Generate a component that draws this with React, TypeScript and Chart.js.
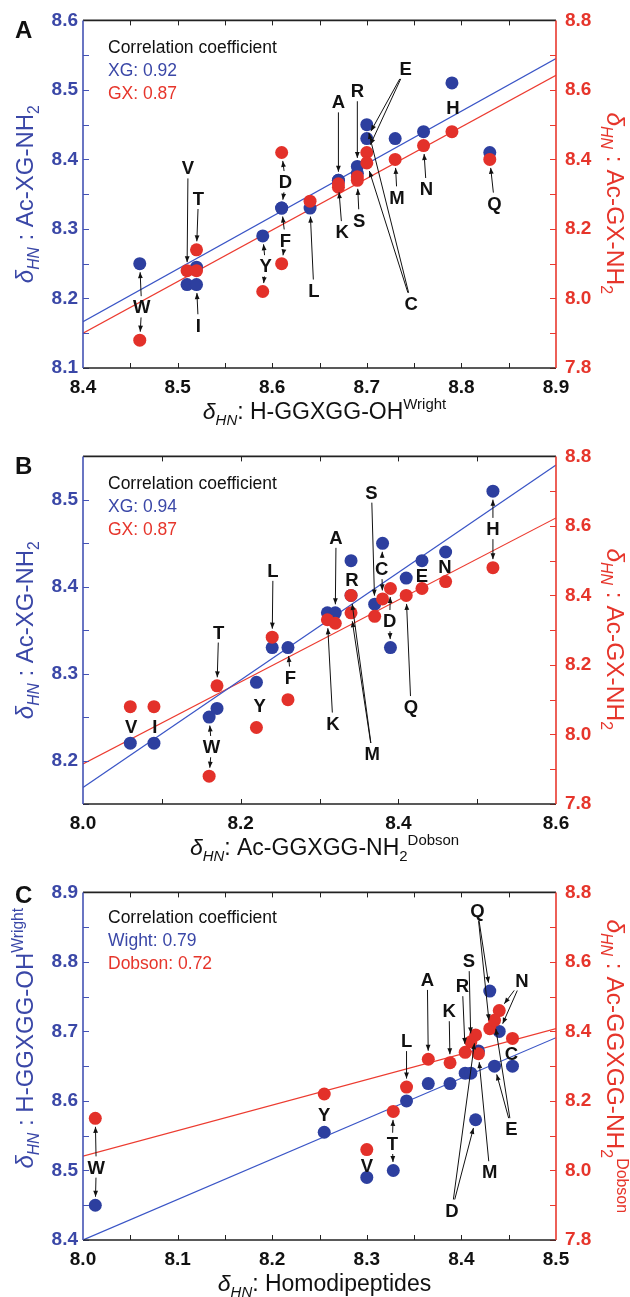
import React, { useEffect, useRef } from 'react';
import { Chart, registerables } from 'chart.js';

Chart.register(...registerables);

const FONT = '"Liberation Sans", Arial, Helvetica, sans-serif';
const BLUE_DOT = '#2d3f9f';
const RED_DOT = '#e3312a';
const BLUE_TXT = '#3a47a7';
const RED_TXT = '#e6352b';
const BLUE_LINE = '#3a55c6';
const RED_LINE = '#ec3b30';
const BLUE_AXIS = '#4453b4';
const RED_AXIS = '#e9392f';

// ---------- Panel A : Wright (x) vs Ac-XG-NH2 (blue) / Ac-GX-NH2 (red)
const residuesA = ['W', 'V', 'I', 'T', 'Y', 'D', 'F', 'L', 'A', 'K', 'R', 'S', 'E', 'C', 'M', 'N', 'H', 'Q'];
const wrightA = [8.46, 8.51, 8.52, 8.52, 8.59, 8.61, 8.61, 8.64, 8.67, 8.67, 8.69, 8.69, 8.70, 8.70, 8.73, 8.76, 8.79, 8.83];
const xgA = [8.25, 8.22, 8.22, 8.245, 8.29, 8.33, 8.33, 8.33, 8.37, 8.37, 8.39, 8.38, 8.43, 8.45, 8.43, 8.44, 8.51, 8.41];
const gxA = [7.88, 8.08, 8.08, 8.14, 8.02, 8.42, 8.10, 8.28, 8.32, 8.33, 8.35, 8.34, 8.42, 8.39, 8.40, 8.44, 8.48, 8.40];
const fitXA = [8.4, 8.9];
const fitXgA = [8.1665, 8.545];
const fitGxA = [7.90, 8.642];
const xTicksA = [8.4, 8.5, 8.6, 8.7, 8.8, 8.9];
const leftTicksA = [8.1, 8.2, 8.3, 8.4, 8.5, 8.6];
const legendA = ['Correlation coefficient', 'XG: 0.92', 'GX: 0.87'];

// ---------- Panel B : Dobson (x) vs Ac-XG-NH2 (blue) / Ac-GX-NH2 (red)
const residuesB = ['V', 'I', 'W', 'T', 'Y', 'L', 'F', 'K', 'A', 'R', 'M', 'S', 'C', 'D', 'Q', 'E', 'N', 'H'];
const dobsonB = [8.06, 8.09, 8.16, 8.17, 8.22, 8.24, 8.26, 8.31, 8.32, 8.34, 8.34, 8.37, 8.38, 8.39, 8.41, 8.43, 8.46, 8.52];
const xgB = [8.22, 8.22, 8.25, 8.26, 8.29, 8.33, 8.33, 8.37, 8.37, 8.39, 8.43, 8.38, 8.45, 8.33, 8.41, 8.43, 8.44, 8.51];
const gxB = [8.08, 8.08, 7.88, 8.14, 8.02, 8.28, 8.10, 8.33, 8.32, 8.35, 8.40, 8.34, 8.39, 8.42, 8.40, 8.42, 8.44, 8.48];
const fitXB = [8.0, 8.6];
const fitXgB = [8.169, 8.540];
const fitGxB = [7.915, 8.623];
const xTicksB = [8.0, 8.2, 8.4, 8.6];
const leftTicksB = [8.2, 8.3, 8.4, 8.5];
const legendB = ['Correlation coefficient', 'XG: 0.94', 'GX: 0.87'];

// ---------- Panel C : Homodipeptides (x) vs Wright (blue) / Dobson (red)
const residuesC = ['W', 'Y', 'V', 'T', 'L', 'A', 'K', 'R', 'S', 'M', 'D', 'Q', 'N', 'E', 'C'];
const homoC = [8.013, 8.255, 8.30, 8.328, 8.342, 8.365, 8.388, 8.404, 8.41, 8.418, 8.415, 8.43, 8.44, 8.435, 8.454];
const wrightC = [8.45, 8.555, 8.49, 8.50, 8.60, 8.625, 8.625, 8.64, 8.64, 8.672, 8.573, 8.758, 8.70, 8.65, 8.65];
const dobsonC = [8.15, 8.22, 8.06, 8.17, 8.24, 8.32, 8.31, 8.34, 8.37, 8.336, 8.39, 8.408, 8.46, 8.432, 8.38];
const fitXC = [8.0, 8.5];
const fitWrightC = [8.40, 8.691];
const fitDobsonC = [8.041, 8.408];
const xTicksC = [8.0, 8.1, 8.2, 8.3, 8.4, 8.5];
const leftTicksC = [8.4, 8.5, 8.6, 8.7, 8.8, 8.9];
const legendC = ['Correlation coefficient', 'Wight: 0.79', 'Dobson: 0.72'];

const rightTicksAll = [7.8, 8.0, 8.2, 8.4, 8.6, 8.8];

// ---------- text helpers
type Seg = { t: string; it?: boolean; sub?: boolean; sup?: boolean };
const dHN: Seg[] = [{ t: 'δ', it: true }, { t: 'HN', it: true, sub: true }];
const xTitleA: Seg[] = [...dHN, { t: ': H-GGXGG-OH' }, { t: 'Wright', sup: true }];
const xTitleB: Seg[] = [...dHN, { t: ': Ac-GGXGG-NH' }, { t: '2', sub: true }, { t: 'Dobson', sup: true }];
const xTitleC: Seg[] = [...dHN, { t: ': Homodipeptides' }];
const yTitleXG: Seg[] = [...dHN, { t: ' : Ac-XG-NH' }, { t: '2', sub: true }];
const yTitleGX: Seg[] = [...dHN, { t: ' : Ac-GX-NH' }, { t: '2', sub: true }];
const yTitleWright: Seg[] = [...dHN, { t: ' : H-GGXGG-OH' }, { t: 'Wright', sup: true }];
const yTitleDobson: Seg[] = [...dHN, { t: ' : Ac-GGXGG-NH' }, { t: '2', sub: true }, { t: 'Dobson', sup: true }];

// annotation layout: [label, x value, left-axis value, targets ('b'/'r' + residue)]
type Ann = [string, number, number, string];
const annA: Ann[] = [
  ['W', 8.462, 8.188, 'bW rW'],
  ['V', 8.511, 8.388, 'rV'],
  ['T', 8.522, 8.344, 'rT'],
  ['I', 8.522, 8.162, 'bI'],
  ['Y', 8.593, 8.247, 'bY rY'],
  ['D', 8.614, 8.368, 'rD bD'],
  ['F', 8.614, 8.284, 'bF rF'],
  ['L', 8.644, 8.212, 'bL'],
  ['A', 8.670, 8.483, 'bA'],
  ['K', 8.674, 8.296, 'rK'],
  ['R', 8.690, 8.499, 'bR'],
  ['S', 8.692, 8.313, 'rS'],
  ['E', 8.741, 8.531, 'bE rE'],
  ['C', 8.747, 8.193, 'bC rC'],
  ['M', 8.732, 8.346, 'rM'],
  ['N', 8.763, 8.358, 'rN'],
  ['H', 8.791, 8.475, ''],
  ['Q', 8.835, 8.337, 'rQ'],
];
const annB: Ann[] = [
  ['V', 8.061, 8.239, ''],
  ['I', 8.091, 8.239, ''],
  ['W', 8.163, 8.216, 'bW rW'],
  ['T', 8.172, 8.348, 'rT'],
  ['Y', 8.224, 8.264, 'bY rY'],
  ['L', 8.241, 8.419, 'rL'],
  ['F', 8.263, 8.296, 'bF rF'],
  ['K', 8.317, 8.243, 'rK'],
  ['A', 8.321, 8.457, 'bA'],
  ['R', 8.341, 8.409, ''],
  ['M', 8.367, 8.208, 'rR rM'],
  ['S', 8.366, 8.509, 'bS'],
  ['C', 8.379, 8.421, 'bC rC'],
  ['D', 8.389, 8.361, 'rD bD'],
  ['Q', 8.416, 8.262, 'rQ'],
  ['E', 8.430, 8.413, ''],
  ['N', 8.459, 8.423, ''],
  ['H', 8.520, 8.467, 'bH rH'],
];
const annC: Ann[] = [
  ['W', 8.014, 8.505, 'rW bW'],
  ['Y', 8.255, 8.580, ''],
  ['V', 8.300, 8.508, ''],
  ['T', 8.327, 8.539, 'rT bT'],
  ['L', 8.342, 8.687, 'rL'],
  ['A', 8.364, 8.775, 'rA'],
  ['K', 8.387, 8.730, 'rK'],
  ['R', 8.401, 8.766, 'rR'],
  ['S', 8.408, 8.802, 'rS'],
  ['Q', 8.417, 8.874, 'bQ rQ'],
  ['N', 8.464, 8.774, 'rN bN'],
  ['C', 8.453, 8.669, ''],
  ['D', 8.390, 8.443, 'bD rD'],
  ['M', 8.430, 8.498, 'rM'],
  ['E', 8.453, 8.560, 'bE rE'],
];

interface Panel {
  letter: string;
  letterY: number;
  legendDy: number;
  leftTitleDy: number;
  rightTitleDy: number;
  residues: string[];
  xs: number[];
  blue: number[];
  red: number[];
  fitX: number[];
  fitBlue: number[];
  fitRed: number[];
  xRange: number[];
  leftRange: number[];
  rightRange: number[];
  xTicks: number[];
  leftTicks: number[];
  rightTicks: number[];
  xMinor: number;
  leftMinor: number;
  rightMinor: number;
  xTitle: Seg[];
  leftTitle: Seg[];
  rightTitle: Seg[];
  legend: string[];
  anns: Ann[];
}

const panels: Panel[] = [
  {
    letter: 'A', letterY: 38, legendDy: 0, leftTitleDy: 0, rightTitleDy: 9,
    residues: residuesA, xs: wrightA, blue: xgA, red: gxA,
    fitX: fitXA, fitBlue: fitXgA, fitRed: fitGxA,
    xRange: [8.4, 8.9], leftRange: [8.1, 8.6], rightRange: [7.8, 8.8],
    xTicks: xTicksA, leftTicks: leftTicksA, rightTicks: rightTicksAll,
    xMinor: 0.05, leftMinor: 0.05, rightMinor: 0.1,
    xTitle: xTitleA, leftTitle: yTitleXG, rightTitle: yTitleGX,
    legend: legendA, anns: annA,
  },
  {
    letter: 'B', letterY: 38, legendDy: 0, leftTitleDy: 0, rightTitleDy: 9,
    residues: residuesB, xs: dobsonB, blue: xgB, red: gxB,
    fitX: fitXB, fitBlue: fitXgB, fitRed: fitGxB,
    xRange: [8.0, 8.6], leftRange: [8.15, 8.55], rightRange: [7.8, 8.8],
    xTicks: xTicksB, leftTicks: leftTicksB, rightTicks: rightTicksAll,
    xMinor: 0.1, leftMinor: 0.05, rightMinor: 0.1,
    xTitle: xTitleB, leftTitle: yTitleXG, rightTitle: yTitleGX,
    legend: legendB, anns: annB,
  },
  {
    letter: 'C', letterY: 31, legendDy: -2, leftTitleDy: -28, rightTitleDy: 0,
    residues: residuesC, xs: homoC, blue: wrightC, red: dobsonC,
    fitX: fitXC, fitBlue: fitWrightC, fitRed: fitDobsonC,
    xRange: [8.0, 8.5], leftRange: [8.4, 8.9], rightRange: [7.8, 8.8],
    xTicks: xTicksC, leftTicks: leftTicksC, rightTicks: rightTicksAll,
    xMinor: 0.05, leftMinor: 0.05, rightMinor: 0.1,
    xTitle: xTitleC, leftTitle: yTitleWright, rightTitle: yTitleDobson,
    legend: legendC, anns: annC,
  },
];

function segFont(s: Seg, size: number) {
  const sz = s.sub || s.sup ? size * 0.65 : size;
  return `${s.it ? 'italic ' : ''}${sz}px ${FONT}`;
}

function drawRich(ctx: CanvasRenderingContext2D, segs: Seg[], size: number, x: number, y: number, angle: number, color: string) {
  ctx.save();
  ctx.translate(x, y);
  ctx.rotate(angle);
  ctx.fillStyle = color;
  ctx.textAlign = 'left';
  ctx.textBaseline = 'alphabetic';
  const ws = segs.map((s) => {
    ctx.font = segFont(s, size);
    return ctx.measureText(s.t).width;
  });
  const total = ws.reduce((a, b) => a + b, 0);
  let cx = -total / 2;
  segs.forEach((s, i) => {
    ctx.font = segFont(s, size);
    const dy = s.sub ? size * 0.25 : s.sup ? -size * 0.42 : 0;
    ctx.fillText(s.t, cx, dy);
    cx += ws[i];
  });
  ctx.restore();
}

function seg(ctx: CanvasRenderingContext2D, x0: number, y0: number, x1: number, y1: number) {
  ctx.beginPath();
  ctx.moveTo(x0, y0);
  ctx.lineTo(x1, y1);
  ctx.stroke();
}

function arrow(ctx: CanvasRenderingContext2D, x0: number, y0: number, x1: number, y1: number) {
  seg(ctx, x0, y0, x1, y1);
  const a = Math.atan2(y1 - y0, x1 - x0);
  const L = 6;
  const W = 2.4;
  ctx.beginPath();
  ctx.moveTo(x1, y1);
  ctx.lineTo(x1 - L * Math.cos(a) + W * Math.sin(a), y1 - L * Math.sin(a) - W * Math.cos(a));
  ctx.lineTo(x1 - L * Math.cos(a) - W * Math.sin(a), y1 - L * Math.sin(a) + W * Math.cos(a));
  ctx.closePath();
  ctx.fill();
}

function steps(min: number, max: number, step: number) {
  const n = Math.round((max - min) / step);
  const out: number[] = [];
  for (let i = 0; i <= n; i++) out.push(min + i * step);
  return out;
}

const R = 6.5;

function overlayPlugin(p: Panel) {
  return {
    id: 'overlay' + p.letter,
    afterDraw(chart: any) {
      const ctx: CanvasRenderingContext2D = chart.ctx;
      const { left, right, top, bottom } = chart.chartArea;
      const sx = chart.scales.x;
      const sl = chart.scales.yL;
      const sr = chart.scales.yR;
      ctx.save();

      // ticks (inside)
      ctx.lineWidth = 1;
      ctx.strokeStyle = '#222';
      steps(p.xRange[0], p.xRange[1], p.xMinor).forEach((v, i, arr) => {
        if (i === 0 || i === arr.length - 1) return;
        const px = Math.round(sx.getPixelForValue(v)) + 0.5;
        seg(ctx, px, bottom, px, bottom - 5);
        seg(ctx, px, top, px, top + 5);
      });
      ctx.strokeStyle = BLUE_AXIS;
      steps(p.leftRange[0], p.leftRange[1], p.leftMinor).forEach((v) => {
        const py = Math.round(sl.getPixelForValue(v)) + 0.5;
        seg(ctx, left, py, left + 6, py);
      });
      ctx.strokeStyle = RED_AXIS;
      steps(p.rightRange[0], p.rightRange[1], p.rightMinor).forEach((v) => {
        const py = Math.round(sr.getPixelForValue(v)) + 0.5;
        seg(ctx, right, py, right - 6, py);
      });

      // frame
      ctx.lineWidth = 1.6;
      ctx.strokeStyle = '#222';
      seg(ctx, left, top, right, top);
      seg(ctx, left, bottom, right, bottom);
      ctx.strokeStyle = BLUE_AXIS;
      seg(ctx, left, top, left, bottom);
      ctx.strokeStyle = RED_AXIS;
      seg(ctx, right, top, right, bottom);

      // annotations
      const size = 18.5;
      const cap = size * 0.716;
      ctx.fillStyle = '#111';
      ctx.strokeStyle = '#111';
      ctx.lineWidth = 1;
      p.anns.forEach(([txt, ax, ay, tg]) => {
        const cx = sx.getPixelForValue(ax);
        const cy = sl.getPixelForValue(ay);
        ctx.font = `bold ${size}px ${FONT}`;
        ctx.textAlign = 'center';
        ctx.textBaseline = 'alphabetic';
        ctx.fillText(txt, cx, cy + cap / 2);
        const hw = ctx.measureText(txt).width / 2 + 1;
        const hh = cap / 2 + 3;
        tg.split(' ').filter(Boolean).forEach((code) => {
          const i = p.residues.indexOf(code.slice(1));
          if (i < 0) return;
          const tx = sx.getPixelForValue(p.xs[i]);
          const ty = code[0] === 'b' ? sl.getPixelForValue(p.blue[i]) : sr.getPixelForValue(p.red[i]);
          const dx = tx - cx;
          const dy = ty - cy;
          const len = Math.hypot(dx, dy);
          const ux = dx / len;
          const uy = dy / len;
          const t = Math.min(Math.abs(ux) > 1e-6 ? hw / Math.abs(ux) : 1e9, Math.abs(uy) > 1e-6 ? hh / Math.abs(uy) : 1e9);
          const x0 = cx + ux * (t + 1);
          const y0 = cy + uy * (t + 1);
          const x1 = tx - ux * (R + 2);
          const y1 = ty - uy * (R + 2);
          if ((x1 - x0) * ux + (y1 - y0) * uy > 4) arrow(ctx, x0, y0, x1, y1);
        });
      });

      // legend
      const lsz = 17.5;
      ctx.textAlign = 'left';
      ctx.textBaseline = 'alphabetic';
      ctx.font = `${lsz}px ${FONT}`;
      const lcol = ['#111', BLUE_TXT, RED_TXT];
      p.legend.forEach((s, i) => {
        ctx.fillStyle = lcol[i];
        ctx.fillText(s, 108, 53 + i * 23 + p.legendDy);
      });

      // panel letter
      ctx.font = `bold 24px ${FONT}`;
      ctx.fillStyle = '#111';
      ctx.fillText(p.letter, 15, p.letterY);

      // axis titles
      const tsz = 23;
      const cyMid = (top + bottom) / 2;
      drawRich(ctx, p.xTitle, tsz, (left + right) / 2 + 5, 419, 0, '#111');
      drawRich(ctx, p.leftTitle, tsz + 1, 33, cyMid + p.leftTitleDy, -Math.PI / 2, BLUE_TXT);
      drawRich(ctx, p.rightTitle, tsz + 1.5, 607, cyMid + p.rightTitleDy, Math.PI / 2, RED_TXT);

      ctx.restore();
    },
  };
}

function buildConfig(p: Panel): any {
  const bluePts = p.xs.map((x, i) => ({ x, y: p.blue[i] }));
  const redPts = p.xs.map((x, i) => ({ x, y: p.red[i] }));
  const fitB = p.fitX.map((x, i) => ({ x, y: p.fitBlue[i] }));
  const fitR = p.fitX.map((x, i) => ({ x, y: p.fitRed[i] }));
  const tickFont = { family: FONT, size: 19, weight: 'bold' as const };
  const setTicks = (arr: number[]) => (scale: any) => {
    scale.ticks = arr.map((v) => ({ value: v }));
  };
  return {
    type: 'scatter',
    data: {
      datasets: [
        { data: redPts, yAxisID: 'yR', backgroundColor: RED_DOT, borderColor: RED_DOT, borderWidth: 0, pointRadius: R, pointHoverRadius: R, order: 0 },
        { data: bluePts, yAxisID: 'yL', backgroundColor: BLUE_DOT, borderColor: BLUE_DOT, borderWidth: 0, pointRadius: R, pointHoverRadius: R, order: 1 },
        { data: fitB, yAxisID: 'yL', showLine: true, borderColor: BLUE_LINE, borderWidth: 1.2, pointRadius: 0, fill: false, order: 2 },
        { data: fitR, yAxisID: 'yR', showLine: true, borderColor: RED_LINE, borderWidth: 1.2, pointRadius: 0, fill: false, order: 2 },
      ],
    },
    options: {
      animation: false,
      responsive: false,
      events: [],
      layout: { padding: { top: 20, left: 0, right: 0, bottom: 0 } },
      plugins: { legend: { display: false }, tooltip: { enabled: false } },
      scales: {
        x: {
          type: 'linear', position: 'bottom', min: p.xRange[0], max: p.xRange[1],
          afterBuildTicks: setTicks(p.xTicks),
          afterFit: (s: any) => { s.height = 68; },
          grid: { display: false, drawTicks: false },
          border: { display: false },
          ticks: { font: tickFont, color: '#111', padding: 8, maxRotation: 0, autoSkip: false, callback: (v: any) => Number(v).toFixed(1) },
        },
        yL: {
          type: 'linear', position: 'left', min: p.leftRange[0], max: p.leftRange[1],
          afterBuildTicks: setTicks(p.leftTicks),
          afterFit: (s: any) => { s.width = 83; },
          grid: { display: false, drawTicks: false },
          border: { display: false },
          ticks: { font: tickFont, color: BLUE_TXT, padding: 5, autoSkip: false, callback: (v: any) => Number(v).toFixed(1) },
        },
        yR: {
          type: 'linear', position: 'right', min: p.rightRange[0], max: p.rightRange[1],
          afterBuildTicks: setTicks(p.rightTicks),
          afterFit: (s: any) => { s.width = 74; },
          grid: { display: false, drawTicks: false },
          border: { display: false },
          ticks: { font: tickFont, color: RED_TXT, padding: 9, autoSkip: false, callback: (v: any) => Number(v).toFixed(1) },
        },
      },
    },
    plugins: [overlayPlugin(p)],
  };
}

function PanelChart({ spec, top }: { spec: Panel; top: number }) {
  const ref = useRef<HTMLCanvasElement>(null);
  useEffect(() => {
    const chart = new Chart(ref.current as HTMLCanvasElement, buildConfig(spec));
    return () => chart.destroy();
  }, [spec]);
  return (
    <canvas
      ref={ref}
      width={630}
      height={436}
      style={{ position: 'absolute', left: 0, top, width: 630, height: 436 }}
    />
  );
}

export default function App() {
  return (
    <div style={{ position: 'absolute', left: 0, top: 0, width: 630, height: 1297, overflow: 'hidden', background: '#fff' }}>
      {panels.map((p, i) => (
        <PanelChart key={p.letter} spec={p} top={i * 436} />
      ))}
    </div>
  );
}
